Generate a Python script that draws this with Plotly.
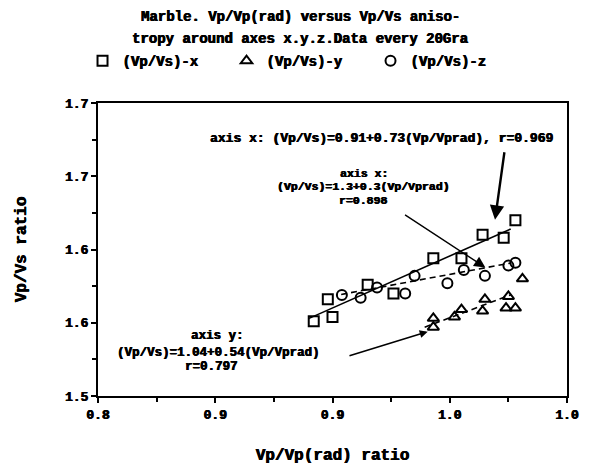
import plotly.graph_objects as go

# Axis ticks (labels as printed, rounded to one decimal)
x_ticks = [0.80, 0.85, 0.90, 0.95, 1.00]
x_ticktext = ["0.8", "0.9", "0.9", "1.0", "1.0"]
y_ticks = [1.50, 1.55, 1.60, 1.65, 1.70]
y_ticktext = ["1.5", "1.6", "1.6", "1.7", "1.7"]

# (Vp/Vs)-x  squares
sq_x = [0.892, 0.900, 0.898, 0.915, 0.926, 0.943, 0.955, 0.964, 0.973, 0.978]
sq_y = [1.551, 1.554, 1.566, 1.576, 1.570, 1.594, 1.594, 1.610, 1.608, 1.620]
# (Vp/Vs)-y  triangles
tri_x = [0.943, 0.943, 0.952, 0.955, 0.964, 0.965, 0.975, 0.974, 0.978, 0.981]
tri_y = [1.553, 1.547, 1.554, 1.559, 1.558, 1.566, 1.568, 1.560, 1.560, 1.580]
# (Vp/Vs)-z  circles
cir_x = [0.904, 0.912, 0.919, 0.931, 0.935, 0.949, 0.956, 0.965, 0.975, 0.978]
cir_y = [1.569, 1.567, 1.574, 1.570, 1.582, 1.577, 1.586, 1.582, 1.589, 1.591]

# fitted lines (end points)
fit_x_x = [0.890, 0.976]
fit_x_y = [1.553, 1.614]
fit_z_x = [0.9037, 0.9762]
fit_z_y = [1.5693, 1.5908]
fit_y_x = [0.9393, 0.9762]
fit_y_y = [1.5470, 1.5691]

FONT = "Liberation Mono"
SHADOW = "0.5px 0 0 black, -0.3px 0 0 black"

fig = go.Figure()
fig.add_trace(go.Scatter(x=fit_x_x, y=fit_x_y, mode="lines", showlegend=False,
                         line=dict(color="black", width=1.6)))
fig.add_trace(go.Scatter(x=fit_z_x, y=fit_z_y, mode="lines", showlegend=False,
                         line=dict(color="black", width=1.6, dash="6px,4px")))
fig.add_trace(go.Scatter(x=fit_y_x, y=fit_y_y, mode="lines", showlegend=False,
                         line=dict(color="black", width=1.6, dash="6px,4px")))

fig.add_trace(go.Scatter(x=sq_x, y=sq_y, mode="markers", name="(Vp/Vs)-x",
                         marker=dict(symbol="square-open", size=10, color="black",
                                     line=dict(width=2))))
fig.add_trace(go.Scatter(x=tri_x, y=tri_y, mode="markers", name="(Vp/Vs)-y",
                         marker=dict(symbol="triangle-up-open", size=10, color="black",
                                     line=dict(width=2))))
fig.add_trace(go.Scatter(x=cir_x, y=cir_y, mode="markers", name="(Vp/Vs)-z",
                         marker=dict(symbol="circle-open", size=10, color="black",
                                     line=dict(width=2))))

anns = []
# title lines
for yy, t in [(1.2924, "Marble. Vp/Vp(rad) versus Vp/Vs aniso-"),
              (1.2193, "tropy around axes x.y.z.Data every 20Gra")]:
    anns.append(dict(xref="paper", yref="paper", x=0.432, y=yy, showarrow=False,
                     xanchor="center", yanchor="middle", text="<b>" + t + "</b>",
                     font=dict(family=FONT, size=14, color="black", shadow=SHADOW)))

# equation texts
def txt(x, y, t, size):
    anns.append(dict(xref="x", yref="y", x=x, y=y, showarrow=False, text="<b>" + t + "</b>",
                     xanchor="center", yanchor="middle",
                     font=dict(family=FONT, size=size, color="black", shadow=SHADOW)))

txt(0.9209, 1.6761, "axis x: (Vp/Vs)=0.91+0.73(Vp/Vprad), r=0.969", 13)
txt(0.9135, 1.6522, "axis x:", 11.5)
txt(0.9131, 1.6428, "(Vp/Vs)=1.3+0.3(Vp/Vprad)", 11.5)
txt(0.9131, 1.6336, "r=0.898", 11.5)
txt(0.8508, 1.5410, "axis y:", 12.5)
txt(0.8512, 1.5295, "(Vp/Vs)=1.04+0.54(Vp/Vprad)", 12.5)
txt(0.8484, 1.5200, "r=0.797", 12.5)

# arrows
def arrow(hx, hy, tx, ty, w, size, head=2):
    anns.append(dict(xref="x", yref="y", axref="x", ayref="y", x=hx, y=hy, ax=tx, ay=ty,
                     text="", showarrow=True, arrowhead=head, arrowsize=size,
                     arrowwidth=w, arrowcolor="black", standoff=0, startstandoff=0))

arrow(0.9693, 1.6203, 0.9734, 1.6674, 2.4, 1.2)
arrow(0.9652, 1.5877, 0.9303, 1.6243, 1.4, 1.6)
arrow(0.9406, 1.5439, 0.9066, 1.5272, 1.6, 1.0)

tickfont = dict(family=FONT, size=13, color="black", weight="bold", shadow=SHADOW)
axis_common = dict(showline=True, mirror=True, linecolor="black", linewidth=2,
                   ticks="outside", ticklen=5, tickwidth=1.5, tickcolor="black",
                   showgrid=False, zeroline=False, tickfont=tickfont)

fig.update_xaxes(range=[0.80, 1.00], tickmode="array", tickvals=x_ticks, ticktext=x_ticktext,
                 minor=dict(ticks="outside", ticklen=4, tickwidth=1.5, tickcolor="black",
                            dtick=0.025, tick0=0.80),
                 title=dict(text="Vp/Vp(rad) ratio", standoff=27,
                            font=dict(family=FONT, size=16, color="black", weight="bold",
                                      shadow=SHADOW)),
                 **axis_common)
fig.update_yaxes(range=[1.50, 1.70], tickmode="array", tickvals=y_ticks, ticktext=y_ticktext,
                 minor=dict(ticks="outside", ticklen=4, tickwidth=1.5, tickcolor="black",
                            dtick=0.025, tick0=1.50),
                 title=dict(text="Vp/Vs ratio", standoff=34,
                            font=dict(family=FONT, size=16, color="black", weight="bold",
                                      shadow=SHADOW)),
                 **axis_common)

# the page adds an 8px body margin, so the figure is sized to fit the window
fig.update_layout(
    width=583, height=465,
    margin=dict(l=82, r=13, t=95, b=69),
    paper_bgcolor="white", plot_bgcolor="white",
    annotations=anns,
    showlegend=True,
    legend=dict(orientation="h", x=-0.033, y=1.1429, xanchor="left", yanchor="middle",
                entrywidth=99, entrywidthmode="pixels",
                font=dict(family=FONT, size=14, color="black", weight="bold", shadow=SHADOW),
                bgcolor="rgba(0,0,0,0)"),
)

fig.write_html("out.html")
